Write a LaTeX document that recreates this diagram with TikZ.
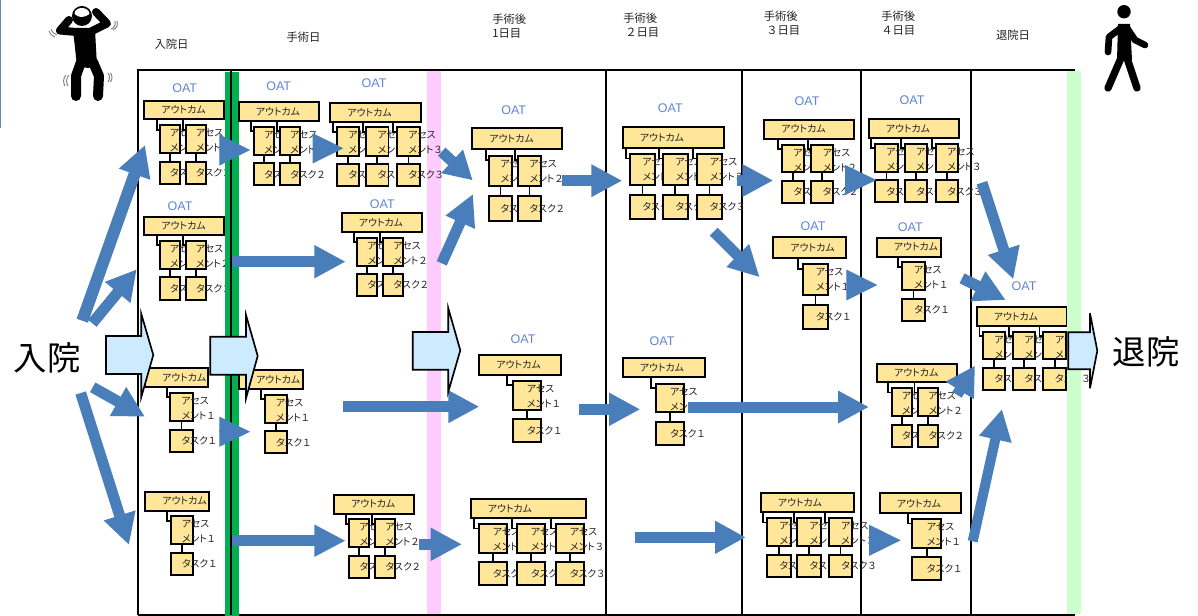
\documentclass[tikz,border=0pt]{standalone}
\usepackage{fontspec}
\setmainfont{Noto Sans CJK JP}
\newfontfamily\latinf{Liberation Sans}
\newfontfamily\kanaf[RawFeature=+palt]{Noto Sans CJK JP}
\usetikzlibrary{calc,arrows.meta}
\definecolor{boxfill}{HTML}{FFE699}
\definecolor{arrblue}{HTML}{4A7EBB}
\definecolor{oatblue}{HTML}{5F85D6}
\definecolor{callfill}{HTML}{CCEBFF}
\definecolor{gstrip}{HTML}{00B050}
\definecolor{pstrip}{HTML}{FFCCFF}
\definecolor{lgstrip}{HTML}{CCFFCC}
\definecolor{txt}{HTML}{222222}
\tikzset{
  frameline/.style={line width=1.25pt,draw=black},
  boxst/.style={draw=black,fill=boxfill,line width=1.3pt,inner sep=0pt,outer sep=0pt,anchor=north west},
  conn/.style={draw=black,line width=1.25pt},
  boxtxt/.style={anchor=west,inner sep=0pt,text=txt,font=\kanaf\fontsize{7.4}{8}\selectfont},
  oat/.style={inner sep=0pt,text=oatblue,font=\latinf\fontsize{9.4}{10}\selectfont},
  headtxt/.style={inner sep=0pt,text=txt,font=\fontsize{8.5}{10}\selectfont},
  bigtxt/.style={inner sep=0pt,text=black,font=\fontsize{25}{27}\selectfont},
  callout/.style={draw=black,fill=callfill,line width=1.25pt,line join=miter},
  vib/.style={draw=gray,line width=0.7pt},
  fig/.style={line cap=round,line join=round,draw=black},
}
\newcommand{\mybox}[5]{%
  \pgfmathsetmacro\ww{(#4-#2)*0.75}\pgfmathsetmacro\hh{(#5-#3)*0.75}%
  \node[boxst,minimum width=\ww pt,minimum height=\hh pt] (#1) at (#2,#3) {};}
\def\parsefour#1,#2,#3,#4;{\def\pa{#1}\def\pb{#2}\def\pc{#3}\def\pd{#4}}
\def\parsefive#1,#2,#3,#4;{\def\qa{#1}\def\qb{#2}\def\qc{#3}\def\qd{#4}}
% name, outcome box, assess top/bot + task top/bot, text offset, columns
\newcommand{\grp}[5]{%
  \parsefour#2;\parsefive#3;%
  \mybox{#1-o}{\pa}{\pb}{\pc}{\pd}%
  \pgfmathsetmacro\ox{\pa+17}\pgfmathsetmacro\oy{(\pb+\pd)/2}%
  \node[boxtxt] (#1-ot) at (\ox,\oy) {アウトカム};%
  \foreach \xa/\xb/\xe/\dg [count=\i] in {#5}{%
    \mybox{#1-a\i}{\xa}{\qa}{\xb}{\qb}%
    \mybox{#1-t\i}{\xa}{\qc}{\xb}{\qd}%
    \pgfmathsetmacro\tx{\xa+#4}\pgfmathsetmacro\tya{\qa+8}\pgfmathsetmacro\tyb{\qa+23}\pgfmathsetmacro\tyc{(\qc+\qd)/2}%
    \node[boxtxt] (#1-al\i) at (\tx,\tya) {アセス};%
    \node[boxtxt] (#1-am\i) at (\tx,\tyb) {メント\hspace{0.5pt}\dg};%
    \node[boxtxt] (#1-tl\i) at (\tx,\tyc) {タスク\hspace{0.5pt}\dg};%
    \coordinate (#1-e\i) at (\xe,\pd);%
    \draw[conn] (#1-e\i) |- ($(#1-a\i.north west)+(0,4.5)$);%
    \draw[conn] (#1-a\i.south) -- (#1-t\i.north);%
  }%
}
% name, tail, tip, shaft, head length, head width (px)
\newcommand{\arr}[6]{%
  \coordinate (#1-s) at (#2);\coordinate (#1-e) at (#3);%
  \pgfmathsetmacro\lw{#4*0.75}\pgfmathsetmacro\hl{#5*0.75}\pgfmathsetmacro\hw{#6*0.75}%
  \draw[draw=arrblue,line width=\lw pt,-{Triangle[length=\hl pt,width=\hw pt,fill=arrblue]}] (#1-s) -- (#1-e);}
\begin{document}
\begin{tikzpicture}[x=0.75pt,y=-0.75pt]
\useasboundingbox (0,0) rectangle (1198,616);
\fill[white] (0,0) rectangle (1198,616);
\fill[fill=oatblue!70!gray] (0,0) rectangle (1.3,128);
% strips and frame
\fill[pstrip] (427,70) rectangle (441,616);
\draw[frameline] (138,615) -- (138,70) -- (1075,70);
\draw[frameline] (138,615) -- (1075,615);
\draw[frameline] (606,70) -- (606,615);
\draw[frameline] (742,70) -- (742,615);
\draw[frameline] (861,70) -- (861,615);
\draw[frameline] (971,70) -- (971,615);
% headers
\node[headtxt] (h1) at (171.5,44) {入院日};
\node[headtxt] (h2) at (303.5,37) {手術日};
\node[headtxt,anchor=west] (h3a) at (492,19) {手術後};
\node[headtxt,anchor=west] (h3b) at (492,33.5) {1日目};
\node[headtxt,anchor=west] (h4a) at (623,18) {手術後};
\node[headtxt,anchor=west] (h4b) at (625,32.5) {２日目};
\node[headtxt,anchor=west] (h5a) at (763.5,16) {手術後};
\node[headtxt,anchor=west] (h5b) at (766,30.5) {３日目};
\node[headtxt,anchor=west] (h6a) at (881,16) {手術後};
\node[headtxt,anchor=west] (h6b) at (881,30.5) {４日目};
\node[headtxt] (h7) at (1013,35.5) {退院日};
\node[bigtxt] (nyu) at (47,358) {入院};
\node[bigtxt] (tai) at (1146,352) {退院};
% OAT labels
\node[oat] (o1) at (184.7,87.7) {OAT};
\node[oat] (o2) at (180,205.7) {OAT};
\node[oat] (o3) at (278.7,85.7) {OAT};
\node[oat] (o4) at (374,82.7) {OAT};
\node[oat] (o5) at (382.3,203.7) {OAT};
\node[oat] (o6) at (513.7,109.7) {OAT};
\node[oat] (o7) at (670.3,107.7) {OAT};
\node[oat] (o8) at (807,101) {OAT};
\node[oat] (o9) at (912,100.5) {OAT};
\node[oat] (o10) at (813,226) {OAT};
\node[oat] (o11) at (910.3,226.7) {OAT};
\node[oat] (o12) at (523,338.7) {OAT};
\node[oat] (o13) at (662,340.7) {OAT};
\node[oat] (o14) at (1024,286) {OAT};
% groups
\grp{G1}{144.3,100.7,224,119.3}{125.3,152.7,162,183.7}{10}{159.7/179.7/156.7/１,185.7/205.7/182.7/２}
\grp{G2}{144.3,216.7,224,235.3}{240.7,268.7,277.3,300}{10}{159.7/179.7/156.7/１,185.7/205.7/182.7/２}
\grp{G6}{145,368.3,208.3,386.7}{392.7,420.7,429.7,451.7}{11}{170.3/192.7/166.7/１}
\grp{G8}{145.3,491.7,209,510.7}{516.3,544.3,553,575}{11}{170.7/193/167/１}
\fill[gstrip] (225,72) rectangle (239,616);
\draw[frameline] (231,70) -- (231,615);
\grp{G3}{238.7,102,318.7,121}{126.7,154.7,163.3,185.3}{10}{254/274/251/１,280/300/277/２}
\grp{G4}{330.3,103,420.7,122}{127.3,156,164.3,186}{11.5}{336.7/359.3/333/１,366/388.5/363/２,396.7/420/393/３}
\grp{G5}{341.7,212.7,421.7,232}{237.7,265.7,274,296.3}{10}{357.3/377/353.7/１,383.3/402.7/380/２}
\grp{G7}{239,370,303,388.7}{394.7,422.7,431.3,453.3}{11}{264.7/287/261/１}
\grp{G9}{334,494.7,414,513.7}{519.3,547.3,556,578}{10}{349.3/369/346/１,375.3/395/372/２}
\grp{G10}{472.3,128.3,561.7,149}{155.7,186.3,196,220.7}{11}{489.3/511.7/485.7/１,518.3/540.7/515/２}
\grp{G11}{622.7,126.7,723.7,148}{154,185.3,194.7,219.3}{12.6}{629.7/655/625.7/１,662.7/687.7/658.7/２,697/722.3/693.3/３}
\grp{G12}{764.3,119.7,854,138.7}{144.7,172.3,181,203.3}{11.6}{781.7/804/778.3/１,811/833.3/807.7/２}
\grp{G13}{868.7,119.3,959.3,137.7}{143.7,171.7,180.3,202.3}{11.3}{875/897.7/871.3/１,904.7/927.3/901/２,935.7/958.3/931.7/３}
\grp{G14}{773.3,237,846.3,258}{264.3,295.3,305,329}{13}{802.7/828/798.3/１}
\grp{G15}{876.7,237.7,940.7,256.7}{262.3,290.3,299,321}{11.7}{902.3/924.7/898.3/１}
\grp{G16}{479.3,355,561.3,374.7}{380.7,409.7,418.7,441.7}{14}{512.7/541.3/507.3/１}
\grp{G17}{622.7,357.7,704.7,377.3}{383.7,412.3,421.7,444.7}{14.3}{655.7/684.3/651/１}
\grp{G18}{470.7,498.7,586,518.3}{524,553.3,562.3,585.3}{14}{478.7/507.3/473.7/１,516.7/545.3/512.3/２,555.7/584.3/551/３}
\grp{G19}{760.7,493.3,853.7,512.3}{518,546,554.7,577}{12}{767.3/790.7/763.3/１,797.3/820.7/794/２,829/852.3/825.3/３}
\grp{G20}{877,363.7,956.7,382.3}{388,416,425,447}{10}{891.7/911.7/888/１,918.3/937.7/914.5/２}
\grp{G21}{879.7,493.3,961.3,513.3}{519,548.3,557.3,580.3}{14.3}{912.3/941.3/907.7/１}
\grp{G22}{976.7,307,1066.7,325.7}{331.7,359.3,368,390}{11.6}{982.7/1005.3/979.5/１,1012.7/1035.3/1009/２,1043.3/1066/1039.5/３}
\fill[lgstrip] (1067,71) rectangle (1081,614);
% block arrows
\arr{A1}{82.3,320.7}{145,145}{12}{31}{31}
\arr{A2}{92.3,323.3}{136.7,269.3}{11}{30}{31}
\arr{A3}{92.7,387.3}{145,416.7}{11}{31}{31}
\arr{A4}{80.7,393}{129,545}{11}{31}{31}
\arr{A5}{218.5,150}{250,150}{1}{30.7}{31}
\arr{A6}{312,148.3}{343.3,148.3}{1}{30.6}{30}
\arr{A7}{231.7,261.7}{345.7,261.7}{11}{31.4}{31}
\arr{A8}{218.5,431.7}{250,431.7}{1}{30.7}{30}
\arr{A9}{232,540.7}{345.7,540.7}{11}{31.4}{30}
\arr{A10}{441.7,151.7}{472.7,180.3}{11}{28}{30}
\arr{A11}{441.7,263.3}{473,194}{11}{31}{30}
\arr{A12}{561.7,180.7}{622.3,180.7}{11}{31}{30.5}
\arr{A13}{736.7,180.5}{773.3,180.5}{11}{31}{30.5}
\arr{A14}{713.7,231.7}{759.7,277.3}{11}{31}{30}
\arr{A15}{844.5,180}{876.3,180}{1}{31.3}{30}
\arr{A16}{982,182.7}{1013.3,279.3}{11}{31}{31}
\arr{A17}{962,278.3}{1005.7,300}{11}{31}{31}
\arr{A18}{845.8,285}{877.3,285}{1}{31}{30.7}
\arr{A19}{957,394.8}{975,365.7}{11}{29}{31}
\arr{A20}{972.7,541.3}{1002,409}{10}{31}{31}
\arr{A21}{343,406.7}{479.3,406.7}{10.7}{31}{30.6}
\arr{A22}{579.3,409.3}{640.3,409.3}{11}{31.3}{31}
\arr{A23}{688,407}{869,407}{11}{31}{30.5}
\arr{A24}{419.3,544.3}{462,544.3}{11}{31.3}{31}
\arr{A25}{635,537.3}{745.7,537.3}{11}{30.7}{31}
\arr{A26}{868.5,540.3}{900.7,540.3}{1}{31.7}{31}
% call-out arrows
\draw[callout] (106,336) -- (141.3,336) -- (141.3,314) -- (153.3,355) -- (141.3,397) -- (141.3,374) -- (106,374) -- cycle;
\draw[callout] (210.3,336.7) -- (246,336.7) -- (246,315) -- (257.7,356) -- (246,398.3) -- (246,374.7) -- (210.3,374.7) -- cycle;
\draw[callout] (412.7,332) -- (448.3,332) -- (448.3,308.3) -- (460.3,350.3) -- (448.3,391.7) -- (448.3,369.7) -- (412.7,369.7) -- cycle;
\draw[callout] (1068.3,332.3) -- (1090,332.3) -- (1090,313.3) -- (1097.3,350.7) -- (1090,388.3) -- (1090,369.3) -- (1068.3,369.3) -- cycle;
% agitated figure
\fill[black] (82,16) circle[radius=10*0.75pt];
\fill[white] (74.5,14) .. controls (74.5,6) and (89,6) .. (89.5,14) .. controls (84,18) and (79,18) .. (74.5,14) -- cycle;
\draw[fig,line width=6pt] (69,20) -- (60,30.5) -- (76,32) -- (90,32) -- (107,23.5) -- (96,12);
\fill[black] (73,30) -- (95,30) -- (97,66) -- (88,68) -- (77,66) -- cycle;
\draw[fig,line width=7.5pt] (81,62) -- (76,76) -- (76,96);
\draw[fig,line width=7.5pt] (93,62) -- (99,76) -- (98,96);
\draw[vib] (49,31) .. controls (50,34) and (52,36) .. (55,37);
\draw[vib] (51,29.5) .. controls (52,32) and (54,34) .. (57,35);
\draw[vib] (111,29) .. controls (114,28) and (116,25) .. (115,21);
\draw[vib] (113,30) .. controls (117,28) and (118,25) .. (117,21);
\draw[vib] (66,75) .. controls (63,78) and (63,83) .. (65,86);
\draw[vib] (69,75) .. controls (66,78) and (66,83) .. (68,86);
\draw[vib] (108,73) .. controls (110,76) and (110,79) .. (108,82);
\draw[vib] (110.5,73) .. controls (112.5,76) and (112.5,79) .. (110.5,82);
% walking figure
\fill[black] (1124,11.7) circle[radius=6.7*0.75pt];
\draw[fig,line width=5pt] (1121,28) -- (1109,37) -- (1108,52);
\draw[fig,line width=5pt] (1127,28) -- (1135,40) -- (1145,45);
\fill[black] (1118,24) -- (1130,24) -- (1132,60) -- (1117,60) -- cycle;
\draw[fig,line width=5.5pt] (1121,58) -- (1108,88);
\draw[fig,line width=5.5pt] (1127,58) -- (1137,88);
\end{tikzpicture}
\end{document}
